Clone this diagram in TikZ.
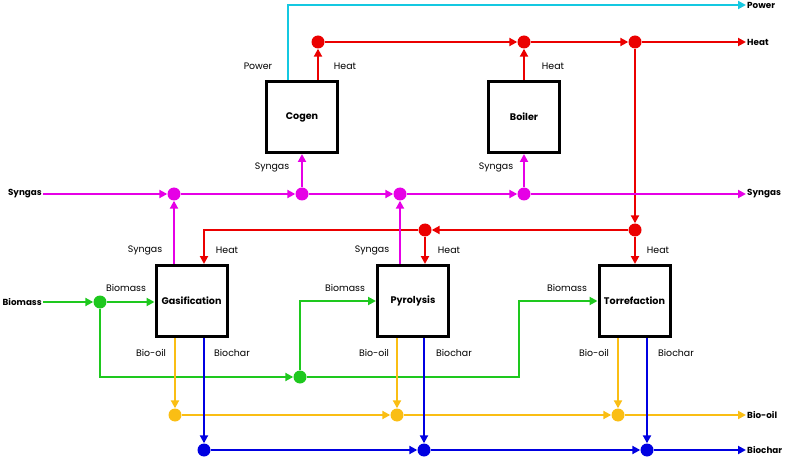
\documentclass[tikz,border=0pt]{standalone}
\usepackage{fontspec}
\setmainfont{Poppins}
\usetikzlibrary{arrows.meta}
\definecolor{cpow}{RGB}{20,200,225}
\definecolor{cheat}{RGB}{235,0,0}
\definecolor{csyn}{RGB}{230,0,230}
\definecolor{cbio}{RGB}{30,200,30}
\definecolor{coil}{RGB}{250,190,20}
\definecolor{cchar}{RGB}{0,0,225}
\pgfdeclarelayer{fg}
\pgfsetlayers{main,fg}
\tikzset{
  proc/.style={draw, line width=3pt, fill=white, minimum width=71pt, minimum height=71pt, inner sep=0pt, font=\bfseries\fontsize{9.6}{11}\selectfont},
  jn/.style={circle, fill, inner sep=0pt, minimum size=13pt},
  flow/.style={line width=2.6pt, -{Triangle[length=8pt,width=8pt]}},
  lbl/.style={font=\fontsize{9.4}{11}\selectfont, inner sep=0pt},
  ext/.style={font=\bfseries\fontsize{8.8}{10}\selectfont, inner sep=1pt},
}
\begin{document}
\begin{tikzpicture}[x=1pt,y=-1pt]
\useasboundingbox (0,0) rectangle (787,457);
\begin{pgfonlayer}{fg}
\node[proc] (cogen) at (302,117) {Cogen};
\node[proc] (boiler) at (524,117) {Boiler};
\node[proc] (gas) at (191.5,301) {Gasification};
\node[proc] (pyro) at (413,301) {Pyrolysis};
\node[proc] (torr) at (634.5,301) {Torrefaction};
\end{pgfonlayer}
% junctions
\node[jn,cheat] (h1) at (318,42) {};
\node[jn,cheat] (h2) at (524,42) {};
\node[jn,cheat] (h3) at (635,42) {};
\node[jn,cheat] (h4) at (635,230) {};
\node[jn,cheat] (h5) at (425,230) {};
\node[jn,csyn] (s1) at (174,194) {};
\node[jn,csyn] (s2) at (302,194) {};
\node[jn,csyn] (s3) at (400,194) {};
\node[jn,csyn] (s4) at (524,194) {};
\node[jn,cbio] (b1) at (100,302) {};
\node[jn,cbio] (b2) at (300,377) {};
\node[jn,coil] (o1) at (175,415) {};
\node[jn,coil] (o2) at (397,415) {};
\node[jn,coil] (o3) at (618,415) {};
\node[jn,cchar] (c1) at (204,450) {};
\node[jn,cchar] (c2) at (424,450) {};
\node[jn,cchar] (c3) at (647,450) {};
\coordinate (pwx) at (288,5);
\coordinate (hgx) at (204,230);
\coordinate (bc) at (519,377);
% external labels
\node[ext,anchor=east] (inSyn) at (43,194) {Syngas};
\node[ext,anchor=east] (inBio) at (43,302) {Biomass};
\node[ext,anchor=west] (outPow) at (746,5) {Power};
\node[ext,anchor=west] (outHeat) at (746,42) {Heat};
\node[ext,anchor=west] (outSyn) at (746,194) {Syngas};
\node[ext,anchor=west] (outOil) at (746,415) {Bio-oil};
\node[ext,anchor=west] (outChar) at (746,450) {Biochar};
% stream labels
\node[lbl] (lPow) at (258,66) {Power};
\node[lbl] (lH1) at (345,66) {Heat};
\node[lbl] (lH2) at (553,66) {Heat};
\node[lbl] (lS1) at (272,167) {Syngas};
\node[lbl] (lS2) at (496,167) {Syngas};
\node[lbl] (lS3) at (145,250) {Syngas};
\node[lbl] (lH3) at (227,250) {Heat};
\node[lbl] (lS4) at (372,250) {Syngas};
\node[lbl] (lH4) at (449,250) {Heat};
\node[lbl] (lH5) at (658,250) {Heat};
\node[lbl] (lB1) at (126,288) {Biomass};
\node[lbl] (lB2) at (345,288) {Biomass};
\node[lbl] (lB3) at (567,288) {Biomass};
\node[lbl] (lO1) at (151,353) {Bio-oil};
\node[lbl] (lC1) at (232,353) {Biochar};
\node[lbl] (lO2) at (374,353) {Bio-oil};
\node[lbl] (lC2) at (454,353) {Biochar};
\node[lbl] (lO3) at (594,353) {Bio-oil};
\node[lbl] (lC3) at (676,353) {Biochar};
% power
\draw[flow,cpow] (cogen.north -| pwx) |- (outPow.west);
% heat
\draw[flow,cheat] (cogen.north -| h1) -- (h1);
\draw[flow,cheat] (boiler.north) -- (h2);
\draw[flow,cheat] (h1) -- (h2);
\draw[flow,cheat] (h2) -- (h3);
\draw[flow,cheat] (h3) -- (outHeat.west);
\draw[flow,cheat] (h3) -- (h4);
\draw[flow,cheat] (h4) -- (torr.north -| h4);
\draw[flow,cheat] (h4) -- (h5);
\draw[flow,cheat] (h5) -- (pyro.north -| h5);
\draw[flow,cheat] (h5) -- (hgx) -- (gas.north -| hgx);
% syngas
\draw[flow,csyn] (inSyn.east) -- (s1);
\draw[flow,csyn] (s1) -- (s2);
\draw[flow,csyn] (s2) -- (s3);
\draw[flow,csyn] (s3) -- (s4);
\draw[flow,csyn] (s4) -- (outSyn.west);
\draw[flow,csyn] (gas.north -| s1) -- (s1);
\draw[flow,csyn] (pyro.north -| s3) -- (s3);
\draw[flow,csyn] (s2) -- (cogen.south);
\draw[flow,csyn] (s4) -- (boiler.south);
% biomass
\draw[flow,cbio] (inBio.east) -- (b1);
\draw[flow,cbio] (b1) -- (gas.west |- b1);
\draw[flow,cbio] (b1) |- (b2);
\draw[flow,cbio] (b2) |- (pyro.west);
\draw[flow,cbio] (b2) -- (bc) |- (torr.west);
% bio-oil
\draw[flow,coil] (gas.south -| o1) -- (o1);
\draw[flow,coil] (pyro.south -| o2) -- (o2);
\draw[flow,coil] (torr.south -| o3) -- (o3);
\draw[flow,coil] (o1) -- (o2);
\draw[flow,coil] (o2) -- (o3);
\draw[flow,coil] (o3) -- (outOil.west);
% biochar
\draw[flow,cchar] (gas.south -| c1) -- (c1);
\draw[flow,cchar] (pyro.south -| c2) -- (c2);
\draw[flow,cchar] (torr.south -| c3) -- (c3);
\draw[flow,cchar] (c1) -- (c2);
\draw[flow,cchar] (c2) -- (c3);
\draw[flow,cchar] (c3) -- (outChar.west);
\end{tikzpicture}
\end{document}
